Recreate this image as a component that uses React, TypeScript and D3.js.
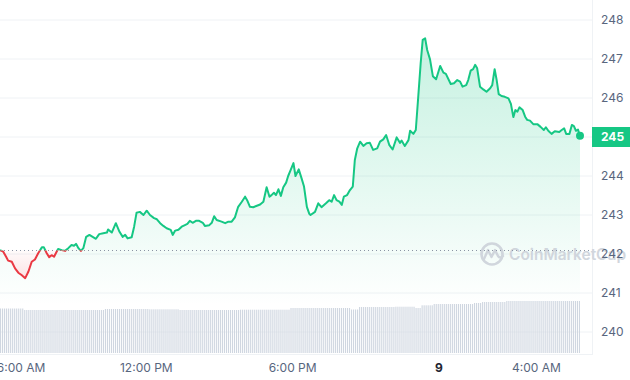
import React from "react";
import * as d3 from "d3";

const W = 630;
const H = 380;

const openPrice = 242.09;

// minutes after 06:00 on the 8th
const priceMinutes = [
  0, 8, 15, 20, 29, 37, 45, 53, 62, 70, 78, 86, 94, 103, 108, 115, 121, 127, 133, 138,
  143, 152, 160, 168, 176, 182, 187, 193, 199, 205, 212, 220, 228, 236, 244, 254, 263, 266, 275, 285,
  294, 302, 308, 314, 324, 330, 336, 344, 353, 361, 369, 379, 386, 394, 402, 410, 420, 425, 431, 439,
  447, 455, 461, 467, 474, 482, 490, 499, 504, 515, 521, 527, 533, 545, 554, 562, 570, 578, 586, 595,
  603, 608, 615, 623, 640, 648, 656, 663, 668, 674, 679, 685, 691, 697, 704, 709, 715, 722, 727, 735,
  742, 748, 755, 761, 764, 775, 783, 791, 802, 810, 816, 822, 828, 835, 841, 846, 854, 861, 868, 873,
  879, 886, 894, 902, 910, 918, 928, 935, 943, 950, 958, 966, 976, 984, 988, 996, 1005, 1009, 1017, 1023,
  1029, 1035, 1040, 1046, 1051, 1058, 1065, 1073, 1083, 1091, 1097, 1109, 1117, 1125, 1132, 1138, 1147, 1152, 1158, 1164,
  1169, 1174, 1181, 1189, 1197, 1206, 1211, 1217, 1222, 1227, 1234, 1242, 1251, 1257, 1263, 1268, 1273, 1278, 1286, 1292,
  1297, 1304, 1312, 1322, 1330, 1338, 1343, 1349, 1357, 1365, 1376, 1382, 1388, 1393, 1401, 1407, 1412, 1417, 1422, 1427,
];

const prices = [
  242.10, 242.06, 241.93, 241.83, 241.80, 241.63, 241.52, 241.46, 241.38, 241.55, 241.80, 241.86, 242.02, 242.17, 242.17, 242.02, 241.92, 241.97, 241.93, 242.03,
  242.13, 242.10, 242.08, 242.15, 242.23, 242.21, 242.26, 242.15, 242.08, 242.15, 242.44, 242.49, 242.44, 242.39, 242.51, 242.53, 242.55, 242.63, 242.55, 242.79,
  242.57, 242.44, 242.49, 242.40, 242.43, 242.70, 243.06, 243.08, 243.00, 243.11, 243.00, 242.92, 242.89, 242.79, 242.72, 242.66, 242.62, 242.49, 242.60, 242.62,
  242.70, 242.74, 242.77, 242.85, 242.80, 242.85, 242.85, 242.80, 242.72, 242.74, 242.80, 242.97, 242.87, 242.83, 242.79, 242.83, 242.83, 242.94, 243.21, 243.34,
  243.47, 243.38, 243.21, 243.20, 243.27, 243.34, 243.71, 243.47, 243.51, 243.57, 243.51, 243.66, 243.49, 243.71, 243.83, 244.00, 244.15, 244.33, 244.00, 244.17,
  243.94, 243.73, 243.21, 243.03, 243.00, 243.08, 243.30, 243.20, 243.30, 243.38, 243.34, 243.51, 243.38, 243.34, 243.26, 243.47, 243.51, 243.64, 243.73, 244.41,
  244.71, 244.88, 244.77, 244.84, 244.85, 244.67, 244.71, 244.88, 244.94, 245.05, 244.79, 244.68, 244.99, 244.85, 244.91, 244.77, 244.92, 245.16, 245.08, 245.18,
  246.03, 246.89, 247.49, 247.53, 247.23, 246.99, 246.56, 246.48, 246.82, 246.65, 246.62, 246.36, 246.38, 246.46, 246.42, 246.29, 246.33, 246.46, 246.70, 246.74,
  246.85, 246.76, 246.29, 246.22, 246.16, 246.25, 246.33, 246.74, 246.46, 246.10, 246.05, 246.03, 245.99, 245.85, 245.51, 245.69, 245.65, 245.76, 245.69, 245.52,
  245.44, 245.42, 245.33, 245.33, 245.26, 245.18, 245.25, 245.16, 245.08, 245.15, 245.13, 245.18, 245.22, 245.08, 245.08, 245.31, 245.28, 245.16, 245.19, 245.03,
];

// 24h volume (billions), as runs of 5-minute bars
const volumeRunLengths = [12, 40, 22, 15, 30, 25, 30, 4, 18, 10, 3, 6, 20, 4, 12, 37];
const volumeRunValues = [4.45, 4.30, 4.40, 4.37, 4.30, 4.33, 4.50, 4.35, 4.60, 4.63, 4.50, 4.77, 4.90, 5.00, 5.10, 5.20];

const yTickValues = [240, 241, 242, 243, 244, 245, 246, 247, 248];
const xTickLabels = ["6:00 AM", "12:00 PM", "6:00 PM", "9", "4:00 AM"];
const xTickMinutes = [0, 360, 720, 1080, 1320];
const priceTagLabel = "245";

const GREEN = "#16c784";
const RED = "#ea3943";
const FONT = "Inter, 'Noto Sans', sans-serif";

const start = new Date(2025, 0, 8, 6, 0);
const toDate = (m: number) => new Date(start.getTime() + m * 60000);

export default function App() {
  const plotRight = 592;
  const x = d3.scaleTime().domain([toDate(0), toDate(1427)]).range([0, 580]);
  const y = d3.scaleLinear().domain([240, 248]).range([332, 20]);
  const yv = d3.scaleLinear().domain([0, 6]).range([353, 293]);

  const data = prices.map((p, i) => ({ t: toDate(priceMinutes[i]), p }));
  const yBase = y(openPrice);

  const line = d3
    .line<{ t: Date; p: number }>()
    .x((d) => x(d.t))
    .y((d) => y(d.p));
  const greenArea = d3
    .area<{ t: Date; p: number }>()
    .x((d) => x(d.t))
    .y0(310)
    .y1((d) => y(d.p));
  const redArea = d3
    .area<{ t: Date; p: number }>()
    .x((d) => x(d.t))
    .y0(yBase)
    .y1((d) => Math.max(y(d.p), yBase));

  const volumes: number[] = [];
  volumeRunLengths.forEach((n, i) => {
    for (let k = 0; k < n; k++) volumes.push(volumeRunValues[i]);
  });
  const xb = d3
    .scaleBand<number>()
    .domain(d3.range(volumes.length))
    .range([0, 580])
    .paddingInner(0.45);

  const last = data[data.length - 1];
  const tagY = y(245);

  return (
    <svg
      width={W}
      height={H}
      style={{ position: "absolute", left: 0, top: 0, background: "#fff" }}
      fontFamily={FONT}
    >
      <defs>
        <linearGradient id="gfill" gradientUnits="userSpaceOnUse" x1="0" y1="20" x2="0" y2="305">
          <stop offset="0" stopColor={GREEN} stopOpacity={0.26} />
          <stop offset="0.55" stopColor={GREEN} stopOpacity={0.12} />
          <stop offset="1" stopColor={GREEN} stopOpacity={0} />
        </linearGradient>
        <linearGradient id="rfill" gradientUnits="userSpaceOnUse" x1="0" y1={yBase} x2="0" y2="282">
          <stop offset="0" stopColor={RED} stopOpacity={0.02} />
          <stop offset="1" stopColor={RED} stopOpacity={0.16} />
        </linearGradient>
        <clipPath id="above">
          <rect x={-5} y={0} width={600} height={yBase} />
        </clipPath>
        <clipPath id="below">
          <rect x={-5} y={yBase} width={600} height={H - yBase} />
        </clipPath>
      </defs>

      {/* grid */}
      {yTickValues.map((v) => (
        <line key={v} x1={0} x2={plotRight} y1={y(v)} y2={y(v)} stroke="#eff2f5" strokeWidth={1} />
      ))}
      <line x1={plotRight + 0.5} x2={plotRight + 0.5} y1={0} y2={355} stroke="#eff2f5" />
      <line x1={0} x2={plotRight} y1={354.5} y2={354.5} stroke="#eff2f5" />

      {/* volume */}
      {volumes.map((v, i) => (
        <rect
          key={i}
          x={xb(i)}
          width={xb.bandwidth()}
          y={yv(v)}
          height={yv(0) - yv(v)}
          fill="#cfd6e0"
        />
      ))}

      {/* areas */}
      <path d={greenArea(data) || ""} fill="url(#gfill)" />
      <path d={redArea(data) || ""} fill="url(#rfill)" />

      {/* watermark */}
      <g opacity={0.9}>
        <circle cx={492} cy={254} r={10.5} fill="none" stroke="#cdd2da" strokeWidth={2.6} />
        <path
          d="M484,259 L488,250 L491.5,257 L495,250 L498,256 Q500,259 503,256"
          fill="none"
          stroke="#cdd2da"
          strokeWidth={2.4}
          strokeLinejoin="round"
          strokeLinecap="round"
        />
        <text x={509} y={259.5} fontSize={15.5} fontWeight={600} fill="#cdd2da">
          CoinMarketCap
        </text>
      </g>

      {/* baseline */}
      <line
        x1={0}
        x2={plotRight}
        y1={yBase}
        y2={yBase}
        stroke="#8a93a3"
        strokeWidth={1}
        strokeDasharray="1 3"
      />

      {/* lines */}
      <path d={line(data) || ""} fill="none" stroke={GREEN} strokeWidth={2} strokeLinejoin="round" clipPath="url(#above)" />
      <path d={line(data) || ""} fill="none" stroke={RED} strokeWidth={2} strokeLinejoin="round" clipPath="url(#below)" />
      <circle cx={x(last.t)} cy={y(last.p)} r={4} fill={GREEN} />

      {/* y labels */}
      {yTickValues.map((v) => (
        <text key={v} x={601} y={y(v)} dy="0.35em" fontSize={12} fill="#58667e">
          {v}
        </text>
      ))}
      <rect x={plotRight} y={tagY - 10} width={W - plotRight} height={20} fill={GREEN} />
      <text x={601} y={tagY} dy="0.35em" fontSize={12} fontWeight={700} fill="#fff">
        {priceTagLabel}
      </text>

      {/* x labels */}
      {xTickLabels.map((lab, i) => {
        const px = x(toDate(xTickMinutes[i]));
        const isDay = lab.length <= 2;
        return (
          <text
            key={lab}
            x={Math.max(px, 21)}
            y={372}
            textAnchor="middle"
            fontSize={12}
            fontWeight={isDay ? 700 : 400}
            fill={isDay ? "#222531" : "#58667e"}
          >
            {lab}
          </text>
        );
      })}
    </svg>
  );
}
